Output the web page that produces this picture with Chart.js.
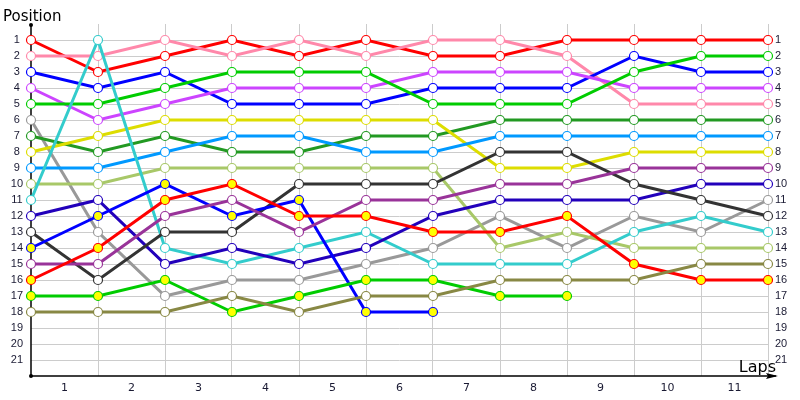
<!DOCTYPE html>
<html>
<head>
<meta charset="utf-8">
<script src="https://cdn.jsdelivr.net/npm/chart.js@4.4.1/dist/chart.umd.min.js"></script>
<style>
  html, body { margin: 0; padding: 0; background: #fff; }
  #wrap { width: 800px; height: 400px; }
</style>
</head>
<body>
<div id="wrap"><canvas id="chart"></canvas></div>
<script>
// lap labels shown between the grid lines, positions 1..21 on both sides
const lapLabels = ['1','2','3','4','5','6','7','8','9','10','11']
const positionTicks = [1,2,3,4,5,6,7,8,9,10,11,12,13,14,15,16,17,18,19,20,21]

// position at start (index 0) and after each lap
const redCar      = [1,3,2,1,2,1,2,2,1,1,1,1]
const pinkCar     = [2,2,1,2,1,2,1,1,2,5,5,5]
const blueCar     = [3,4,3,5,5,5,4,4,4,2,3,3]
const violetCar   = [4,6,5,4,4,4,3,3,3,4,4,4]
const greenCar    = [5,5,4,3,3,3,5,5,5,3,2,2]
const greyCar     = [6,13,17,16,16,15,14,12,14,12,13,11]
const forestCar   = [7,8,7,8,8,7,7,6,6,6,6,6]
const yellowCar   = [8,7,6,6,6,6,6,9,9,8,8,8]
const skyCar      = [9,9,8,7,7,8,8,7,7,7,7,7]
const limeCar     = [10,10,9,9,9,9,9,14,13,14,14,14]
const cyanCar     = [11,1,14,15,14,13,15,15,15,13,12,13]
const navyCar     = [12,11,15,14,15,14,12,11,11,11,10,10]
const blackCar    = [13,16,13,13,10,10,10,8,8,10,11,12]
const blue2Car    = [14,12,10,12,11,18,18]
const purpleCar   = [15,15,12,11,13,11,11,10,10,9,9,9]
const red2Car     = [16,14,11,10,12,12,13,13,12,15,16,16]
const green2Car   = [17,17,16,18,17,16,16,17,17]
const oliveCar    = [18,18,18,17,18,17,17,16,16,16,15,15]

function series(values, color, fill) {
  return {
    data: values.map((v, i) => ({ x: i, y: v })),
    borderColor: color,
    backgroundColor: fill || '#ffffff',
    pointBorderColor: color,
    pointBackgroundColor: fill || '#ffffff',
    borderWidth: 3,
    pointRadius: 4.5,
    pointBorderWidth: 1.2,
    pointHoverRadius: 4.5,
    tension: 0,
    clip: false
  }
}

const datasets = [
  series(oliveCar, '#888844'),
  series(green2Car, '#00cc00', '#ffff00'),
  series(red2Car, '#ff0000', '#ffff00'),
  series(purpleCar, '#993399'),
  series(blue2Car, '#0000ff', '#ffff00'),
  series(blackCar, '#333333'),
  series(navyCar, '#2200bb'),
  series(cyanCar, '#33cccc'),
  series(limeCar, '#a8c868'),
  series(skyCar, '#0099ff'),
  series(yellowCar, '#dddd00'),
  series(forestCar, '#229922'),
  series(greyCar, '#999999'),
  series(greenCar, '#00cc00'),
  series(violetCar, '#cc44ff'),
  series(blueCar, '#0000ff'),
  series(pinkCar, '#ff88aa'),
  series(redCar, '#ff0000')
]

// axis lines with arrow / dots and the two axis titles
const axisDecor = {
  id: 'axisDecor',
  beforeDatasetsDraw(chart) {
    const { ctx, chartArea: a } = chart
    ctx.save()
    ctx.strokeStyle = '#000'
    ctx.fillStyle = '#000'
    ctx.lineWidth = 1.5
    ctx.beginPath()
    ctx.moveTo(a.left, a.top + 1)
    ctx.lineTo(a.left, a.bottom)
    ctx.lineTo(a.right + 8, a.bottom)
    ctx.stroke()
    ctx.beginPath()
    ctx.moveTo(a.right + 10, a.bottom)
    ctx.lineTo(a.right - 2, a.bottom - 3)
    ctx.lineTo(a.right, a.bottom)
    ctx.lineTo(a.right - 2, a.bottom + 3)
    ctx.closePath()
    ctx.fill()
    ctx.beginPath()
    ctx.arc(a.left, a.top + 1, 2, 0, Math.PI * 2)
    ctx.fill()
    ctx.beginPath()
    ctx.arc(a.left, a.bottom, 2, 0, Math.PI * 2)
    ctx.fill()
    ctx.restore()
  },
  afterDraw(chart) {
    const { ctx, chartArea: a } = chart
    ctx.save()
    ctx.fillStyle = '#000'
    ctx.font = '15px "DejaVu Sans"'
    ctx.textBaseline = 'alphabetic'
    ctx.textAlign = 'left'
    ctx.fillText('Position', 3, 21)
    ctx.font = '16px "DejaVu Sans"'
    ctx.textAlign = 'right'
    ctx.fillText('Laps', a.right + 8, a.bottom - 4)
    ctx.restore()
  }
}

const xTickValues = []
for (let i = 0; i <= lapLabels.length; i++) {
  xTickValues.push(i)
  if (i < lapLabels.length) xTickValues.push(i + 0.5)
}

const tickColor = '#1a1a33'
const tickFont = { family: 'Liberation Sans', size: 11 }

new Chart('chart', {
  type: 'line',
  data: { datasets: datasets },
  options: {
    responsive: true,
    maintainAspectRatio: false,
    animation: false,
    layout: { padding: { top: 24, left: 0, right: 0, bottom: 0 } },
    plugins: {
      legend: { display: false },
      tooltip: { enabled: false }
    },
    scales: {
      x: {
        type: 'linear',
        min: 0,
        max: lapLabels.length,
        afterBuildTicks: s => { s.ticks = xTickValues.map(v => ({ value: v })) },
        afterFit: s => { s.height = 24 },
        border: { display: false },
        grid: {
          drawTicks: false,
          lineWidth: 1,
          color: c => (c.tick && Number.isInteger(c.tick.value) && c.tick.value > 0) ? '#cccccc' : 'rgba(0,0,0,0)'
        },
        ticks: {
          autoSkip: false,
          maxRotation: 0,
          padding: 6,
          color: tickColor,
          font: { family: 'DejaVu Sans', size: 11 },
          callback: v => Number.isInteger(v) ? '' : lapLabels[Math.floor(v)]
        }
      },
      y: {
        type: 'linear',
        position: 'left',
        reverse: true,
        min: 0,
        max: 22,
        afterBuildTicks: s => { s.ticks = positionTicks.map(v => ({ value: v })) },
        afterFit: s => { s.width = 31 },
        border: { display: false },
        grid: { drawTicks: false, color: '#cccccc', lineWidth: 1 },
        ticks: {
          autoSkip: false,
          padding: 8,
          crossAlign: 'center',
          color: tickColor,
          font: tickFont
        }
      },
      y2: {
        type: 'linear',
        position: 'right',
        reverse: true,
        min: 0,
        max: 22,
        afterBuildTicks: s => { s.ticks = positionTicks.map(v => ({ value: v })) },
        afterFit: s => { s.width = 32 },
        border: { display: false },
        grid: { display: false, drawTicks: false },
        ticks: {
          autoSkip: false,
          padding: 7,
          color: tickColor,
          font: tickFont
        }
      }
    }
  },
  plugins: [axisDecor]
})
</script>
</body>
</html>
